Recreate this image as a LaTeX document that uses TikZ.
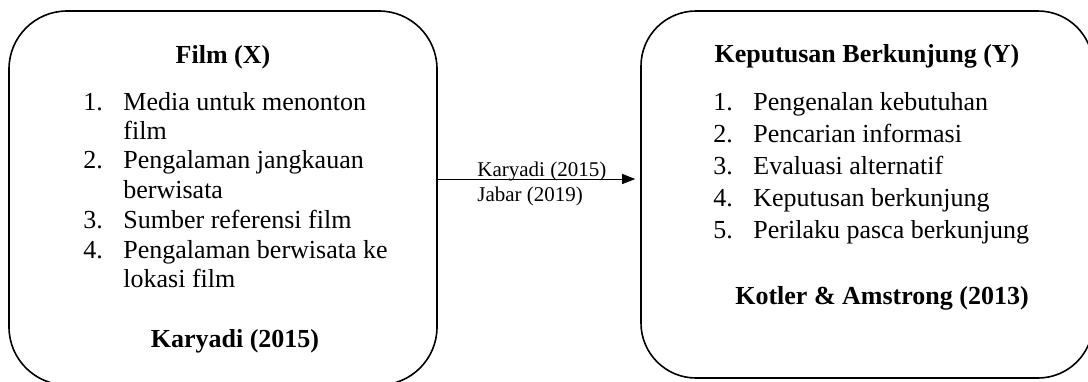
\documentclass[tikz,border=0pt]{standalone}
\usepackage{fontspec}
\setmainfont{Liberation Serif}
\usetikzlibrary{arrows.meta}
\begin{document}
\begin{tikzpicture}[x=0.5pt,y=-0.5pt,
  box/.style={draw, line width=0.8pt, rectangle, inner sep=0pt},
  ttl/.style={anchor=base, inner sep=0pt, font=\fontsize{13}{15}\selectfont\bfseries},
  item/.style={anchor=base west, inner sep=0pt, font=\fontsize{13}{15}\selectfont},
  lbl/.style={anchor=base west, inner sep=0pt, font=\fontsize{10.5}{12}\selectfont},
  conn/.style={line width=0.5pt, -{Triangle[length=6.5pt,width=5pt]}, shorten >=2.5pt}]
\useasboundingbox (0,0) rectangle (1088,381);
% boxes
\node[box, minimum width=214pt, minimum height=187pt, rounded corners=29pt] (L) at (223,198) {};
\node[box, minimum width=226pt, minimum height=183.5pt, rounded corners=27.5pt] (R) at (867,194.5) {};
% left texts
\node[ttl] (Lt) at (223,63) {Film (X)};
\node[item] (L1) at (83,110) {\makebox[20pt][l]{1.}Media untuk menonton};
\node[item] (L1b) at (123,139) {film};
\node[item] (L2) at (83,168) {\makebox[20pt][l]{2.}Pengalaman jangkauan};
\node[item] (L2b) at (123,198) {berwisata};
\node[item] (L3) at (83,228) {\makebox[20pt][l]{3.}Sumber referensi film};
\node[item] (L4) at (83,258) {\makebox[20pt][l]{4.}Pengalaman berwisata ke};
\node[item] (L4b) at (123,287) {lokasi film};
\node[ttl] (Ls) at (235,347) {Karyadi (2015)};
% right texts
\node[ttl] (Rt) at (867,62) {Keputusan Berkunjung (Y)};
\node[item] (R1) at (713,110) {\makebox[20pt][l]{1.}Pengenalan kebutuhan};
\node[item] (R2) at (713,142) {\makebox[20pt][l]{2.}Pencarian informasi};
\node[item] (R3) at (713,174) {\makebox[20pt][l]{3.}Evaluasi alternatif};
\node[item] (R4) at (713,206) {\makebox[20pt][l]{4.}Keputusan berkunjung};
\node[item] (R5) at (713,238) {\makebox[20pt][l]{5.}Perilaku pasca berkunjung};
\node[ttl] (Rs) at (882,304) {Kotler \& Amstrong (2013)};
% connector
\coordinate (A) at (0,179);
\draw[conn] (L.east |- A) -- (R.west |- A);
\node[lbl] (K1) at (477,176) {Karyadi (2015)};
\node[lbl] (K2) at (477,201) {Jabar (2019)};
\end{tikzpicture}
\end{document}
